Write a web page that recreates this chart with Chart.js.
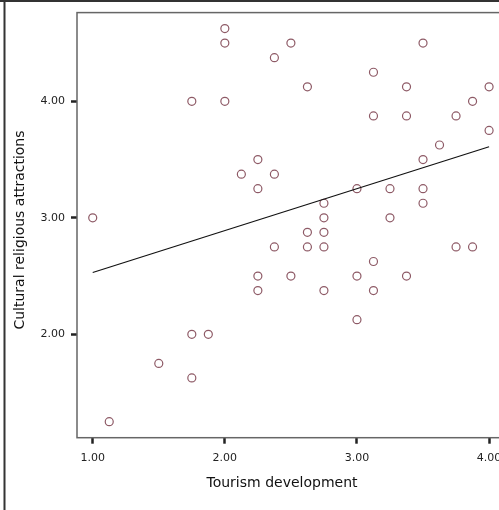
<!DOCTYPE html>
<html>
<head>
<meta charset="utf-8">
<script src="https://cdn.jsdelivr.net/npm/chart.js@4"></script>
<style>
  html, body { margin: 0; padding: 0; background: #fff; overflow: hidden; }
  #wrap { width: 499px; height: 510px; overflow: hidden; }
</style>
</head>
<body>
<div id="wrap"><canvas id="scatter" width="510" height="510"></canvas></div>
<script>
// Tourism development (x) vs cultural religious attractions (y)
const tourismDev = [1.00, 1.125, 1.5, 1.75, 1.875, 1.75, 1.75, 2.0, 2.0, 2.0,
    2.125, 2.25, 2.25, 2.25, 2.25, 2.375, 2.375, 2.375, 2.5, 2.5,
    2.625, 2.625, 2.625, 2.75, 2.75, 2.75, 2.75, 2.75, 3.0, 3.0,
    3.0, 3.125, 3.125, 3.125, 3.125, 3.25, 3.25, 3.375, 3.375, 3.375,
    3.5, 3.5, 3.5, 3.5, 3.625, 3.75, 3.75, 3.875, 3.875, 4.0, 4.0];
const culturalReligious = [3.0, 1.25, 1.75, 2.0, 2.0, 1.625, 4.0, 4.0, 4.5, 4.625,
    3.375, 3.5, 3.25, 2.5, 2.375, 4.375, 3.375, 2.75, 4.5, 2.5,
    4.125, 2.875, 2.75, 3.125, 3.0, 2.875, 2.75, 2.375, 3.25, 2.5,
    2.125, 4.25, 3.875, 2.625, 2.375, 3.25, 3.0, 4.125, 3.875, 2.5,
    4.5, 3.5, 3.25, 3.125, 3.625, 3.875, 2.75, 4.0, 2.75, 4.125, 3.75];

// fit line end points
const fitX = [1.0, 4.0];
const fitY = [2.53, 3.61];

const xTicks = [1, 2, 3, 4];
const yTicks = [2, 3, 4];
const xTitle = 'Tourism development';
const yTitle = 'Cultural religious attractions';

const points = tourismDev.map((x, i) => ({ x: x, y: culturalReligious[i] }));
const fitPoints = fitX.map((x, i) => ({ x: x, y: fitY[i] }));

// box round the plot, outer frame and axis titles
const framePlugin = {
    id: 'frame',
    beforeDraw(chart) {
        const ctx = chart.ctx;
        ctx.save();
        ctx.fillStyle = '#fff';
        ctx.fillRect(0, 0, chart.width, chart.height);
        ctx.strokeStyle = '#333';
        ctx.lineWidth = 2;
        ctx.beginPath();
        ctx.moveTo(0, 1);
        ctx.lineTo(chart.width, 1);
        ctx.moveTo(4.5, 0);
        ctx.lineTo(4.5, chart.height);
        ctx.stroke();
        ctx.restore();
    },
    afterDraw(chart) {
        const ctx = chart.ctx;
        const a = chart.chartArea;
        ctx.save();
        ctx.strokeStyle = '#666';
        ctx.lineWidth = 1.5;
        ctx.strokeRect(a.left, a.top, a.right - a.left, a.bottom - a.top);

        ctx.fillStyle = '#111';
        ctx.font = '14px "DejaVu Sans", sans-serif';
        ctx.textAlign = 'center';
        ctx.textBaseline = 'middle';
        ctx.fillText(xTitle, 282, 483);
        ctx.translate(20.5, 230);
        ctx.rotate(-Math.PI / 2);
        ctx.fillText(yTitle, 0, 0);
        ctx.restore();
    }
};

new Chart(document.getElementById('scatter'), {
    type: 'scatter',
    data: {
        datasets: [{
            label: 'Observed',
            data: points,
            pointStyle: 'circle',
            pointRadius: 4,
            pointBorderWidth: 1.2,
            pointBorderColor: '#8e5a66',
            pointBackgroundColor: 'rgba(0,0,0,0)',
            order: 2
        }, {
            label: 'Fit line',
            type: 'line',
            data: fitPoints,
            borderColor: '#111',
            borderWidth: 1.2,
            pointRadius: 0,
            fill: false,
            order: 1
        }]
    },
    options: {
        responsive: false,
        animation: false,
        devicePixelRatio: 1,
        layout: { padding: { top: 11, right: 5, left: 0, bottom: 0 } },
        plugins: {
            legend: { display: false },
            tooltip: { enabled: false }
        },
        scales: {
            x: {
                type: 'linear',
                min: 0.881,
                max: 4.119,
                afterBuildTicks: scale => { scale.ticks = xTicks.map(v => ({ value: v })); },
                afterFit: scale => { scale.height = 72.3; },
                border: { display: false },
                grid: {
                    drawOnChartArea: false,
                    drawTicks: true,
                    tickLength: 6,
                    tickWidth: 2.5,
                    tickColor: '#222'
                },
                ticks: {
                    padding: 8,
                    color: '#222',
                    font: { family: '"DejaVu Sans", sans-serif', size: 11 },
                    callback: v => Number(v).toFixed(2)
                }
            },
            y: {
                type: 'linear',
                min: 1.112,
                max: 4.762,
                afterBuildTicks: scale => { scale.ticks = yTicks.map(v => ({ value: v })); },
                afterFit: scale => { scale.width = 77; },
                border: { display: false },
                grid: {
                    drawOnChartArea: false,
                    drawTicks: true,
                    tickLength: 6,
                    tickWidth: 2.5,
                    tickColor: '#222'
                },
                ticks: {
                    padding: 6,
                    color: '#222',
                    font: { family: '"DejaVu Sans", sans-serif', size: 11 },
                    callback: v => Number(v).toFixed(2)
                }
            }
        }
    },
    plugins: [framePlugin]
});
</script>
</body>
</html>
